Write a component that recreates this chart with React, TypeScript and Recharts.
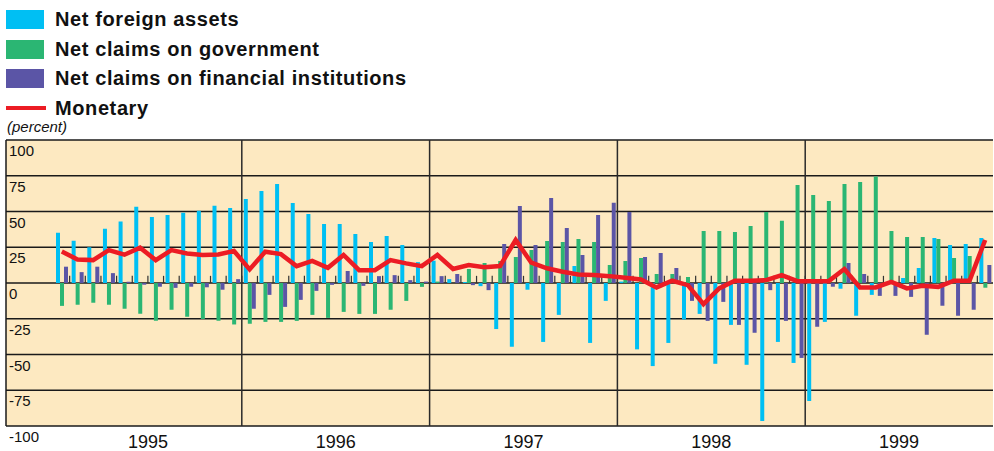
import {
  ComposedChart,
  Bar,
  Line,
  XAxis,
  YAxis,
  CartesianGrid,
  ReferenceLine,
} from "recharts";

const years = ["1995", "1996", "1997", "1998", "1999"];
const monthNums = ["01", "02", "03", "04", "05", "06", "07", "08", "09", "10", "11", "12"];
const months = years.flatMap((y) => monthNums.map((m) => `${y}-${m}`));

const netForeignAssets = [
  35.2, 29.6, 25, 38, 43, 53.4, 46.2, 47.6, 49.2, 50.6, 54, 52.5,
  58.8, 64.4, 69.3, 56, 48.2, 41.2, 41.2, 34.2, 28.6, 32.8, 26.5, 14.6,
  15.6, 2.7, 0.7, -2.2, -32.2, -44.6, -4.7, -41.2, -22.3, 11.9, -41.9, -12.5,
  1, -46.4, -58.1, -41.9, -25.5, -21.6, -56.5, -29.3, -57.2, -96.5, -41.2, -55.9,
  -82.5, -27.2, -4, -22.9, -8.3, -1, 3.5, 10.5, 31.5, 26.6, 27.3, 31.5,
];

const netClaimsGov = [
  -16, -15.2, -13.8, -15.2, -18, -21.5, -26.4, -18.7, -23.6, -25.2, -26.4, -29,
  -28.5, -27.2, -27.2, -26.5, -22.3, -24.4, -20.2, -21.6, -21.6, -18.7, -12.5, -2.7,
  1, 0, 9.8, 14, 15.4, 18.2, 23.1, 29.4, 28.6, 30.8, 28.6, 12.6,
  15.4, 17.5, 6.3, 6.3, 4.2, 36.4, 36.4, 35.7, 39.9, 49.7, 43.6, 68.6,
  61.6, 57.4, 69.3, 70.7, 74.4, 36.4, 32.2, 32.2, 30.8, 17.5, 18.9, -3.3,
];

const netClaimsFin = [
  11.4, 7.6, 11.4, 6.9, 0.9, -1.2, -2.6, -3.4, -2.6, -3, -4.7, 2.7,
  -18, -8.3, -16.7, -11.8, -5.5, -1.3, 8.4, -2, 4.8, 5.5, 2, 1,
  4.8, 6.3, -1.5, -5, 27.3, 53.9, 26.6, 59.5, 38.5, 19.6, 47.6, 56.2,
  49.7, 18.2, 21, 10.5, -12.5, -26.5, -13.2, -29.3, -34.8, -5, -26.5, -52.4,
  -30.6, -2.6, 14, 6.3, -9, -9, -9.7, -36.2, -15.9, -22.9, -18.7, 12.6,
];

const monetary = [
  22, 16.5, 16, 23, 19.8, 24.7, 16, 23, 20.7, 19.6, 20, 22.4,
  9.5, 21.9, 20.2, 11.8, 15.5, 10.6, 19.6, 9, 9, 16, 13.7, 11.8,
  19.6, 9.8, 12.6, 11, 11.9, 30.1, 14.2, 10.3, 7.9, 6, 5.6, 4.8,
  3.7, 2.5, -3.1, 1.6, -1.5, -14.8, -3.8, 1.6, 1.6, 2, 5.5, 1.3,
  1.3, 1.3, 9.8, -3.1, -3.1, 0.8, -3.8, -2, -2.7, 1.6, 1.6, 30.1,
];

const yTicks = [-100, -75, -50, -25, 0, 25, 50, 75, 100];

const series = [
  { key: "foreign", name: "Net foreign assets", color: "#00bff3" },
  { key: "gov", name: "Net claims on government", color: "#2bb673" },
  { key: "fin", name: "Net claims on financial institutions", color: "#5b55a6" },
];
const lineColor = "#ec1c24";

const data = months.map((month, i) => ({
  month,
  foreign: netForeignAssets[i],
  gov: netClaimsGov[i],
  fin: netClaimsFin[i],
  monetary: monetary[i],
}));

// year labels sit in the middle of each year (start of July)
const yearLabelTicks = years.map((y) => `${y}-07`);
const yearStarts = years.slice(1).map((y) => `${y}-01`);

const font = "'Liberation Sans', Arial, sans-serif";

function YTick(props: any) {
  const { x, y, payload } = props;
  return (
    <text x={x + 3} y={y + 16} fontSize={15} fill="#111" fontFamily={font} textAnchor="start">
      {payload.value}
    </text>
  );
}

function YearTick(props: any) {
  const { x, y, payload } = props;
  const shift = payload.offset ?? 0;
  return (
    <text x={x - shift} y={y + 22} fontSize={18} fill="#111" fontFamily={font} textAnchor="middle">
      {String(payload.value).slice(0, 4)}
    </text>
  );
}

const legendText = {
  fontSize: 20,
  fontWeight: "bold" as const,
  letterSpacing: 0.6,
  color: "#111",
};

export default function App() {
  return (
    <div
      style={{
        position: "absolute",
        left: 0,
        top: 0,
        width: 994,
        height: 451,
        background: "#fff",
        fontFamily: font,
      }}
    >
      <div style={{ position: "absolute", left: 6, top: 5 }}>
        {series.map((s) => (
          <div key={s.key} style={{ display: "flex", alignItems: "center", height: 29.5 }}>
            <div style={{ width: 38, height: 19, background: s.color }} />
            <span style={{ marginLeft: 11, ...legendText }}>{s.name}</span>
          </div>
        ))}
        <div style={{ display: "flex", alignItems: "center", height: 29.5 }}>
          <div style={{ width: 40, height: 4, background: lineColor }} />
          <span style={{ marginLeft: 9, ...legendText }}>Monetary</span>
        </div>
      </div>
      <div
        style={{
          position: "absolute",
          left: 7,
          top: 118,
          fontSize: 15,
          fontStyle: "italic",
          color: "#111",
        }}
      >
        (percent)
      </div>
      <ComposedChart
        width={994}
        height={451}
        data={data}
        margin={{ top: 140, right: 1, bottom: 0, left: 0 }}
        barGap={0}
        barSize={4}
      >
        <CartesianGrid vertical={false} stroke="#1a1a1a" strokeWidth={1.5} fill="#fde9c1" fillOpacity={1} />
        <XAxis
          dataKey="month"
          height={25}
          padding={{ left: 48, right: 0 }}
          axisLine={false}
          tickLine={false}
          tickSize={0}
          tickMargin={0}
          ticks={yearLabelTicks}
          interval={0}
          tick={<YearTick />}
        />
        <YAxis
          type="number"
          width={6}
          domain={[-100, 100]}
          ticks={yTicks}
          allowDataOverflow
          axisLine={{ stroke: "#1a1a1a", strokeWidth: 1.5 }}
          tickLine={false}
          tickSize={0}
          tickMargin={0}
          tick={<YTick />}
        />
        {yearStarts.map((m) => (
          <ReferenceLine key={m} x={m} position="start" stroke="#2a2a2a" strokeWidth={1.5} />
        ))}
        {months.slice(0, -1).map((m) => (
          <ReferenceLine
            key={"t" + m}
            segment={[
              { x: m, y: 0 },
              { x: m, y: 5 },
            ]}
            position="end"
            stroke="#333"
            strokeWidth={1.2}
          />
        ))}
        {series.map((s) => (
          <Bar key={s.key} dataKey={s.key} name={s.name} fill={s.color} isAnimationActive={false} />
        ))}
        <Line
          dataKey="monetary"
          name="Monetary"
          type="linear"
          stroke={lineColor}
          strokeWidth={4.5}
          dot={false}
          isAnimationActive={false}
        />
      </ComposedChart>
    </div>
  );
}
